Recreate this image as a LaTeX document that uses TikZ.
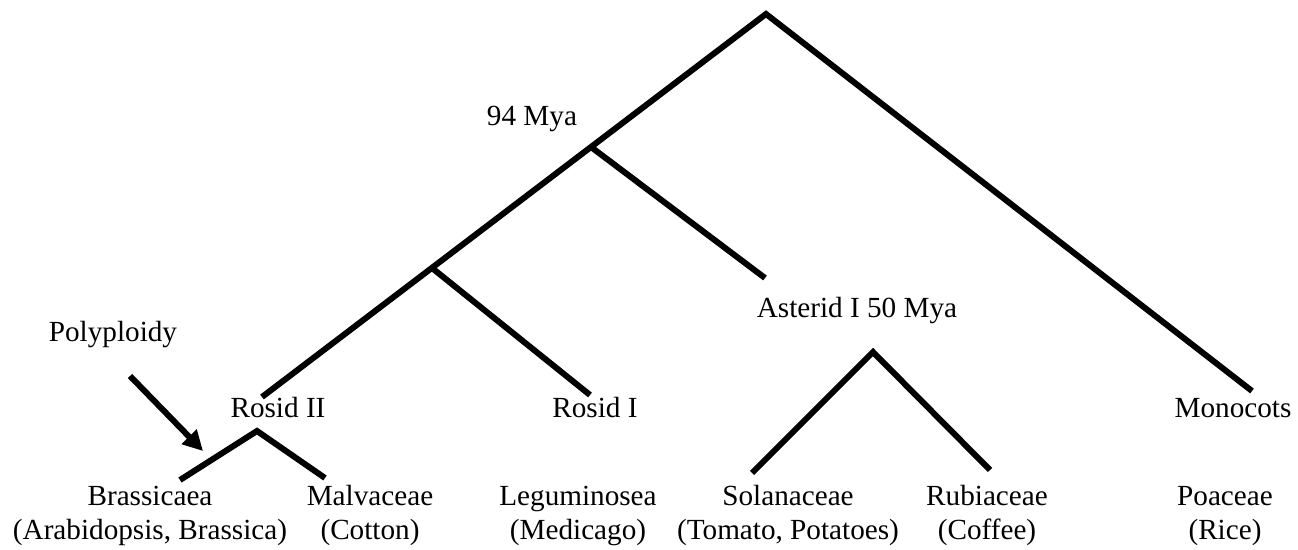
\documentclass[tikz,border=0pt]{standalone}
\usepackage{fontspec}
\setmainfont{Liberation Serif}
\usepackage{tikz}
\usetikzlibrary{arrows.meta}

\begin{document}
\begin{tikzpicture}[x=0.5pt,y=-0.5pt,
  branch/.style={line width=3pt,line join=miter,line cap=butt},
  taxon/.style={font=\fontsize{14.6}{17}\selectfont,inner sep=0pt,align=center,anchor=base}]
\useasboundingbox (0,0) rectangle (1298,550);
\coordinate (root) at (766,14);
\coordinate (n94) at (591,147);
\coordinate (nrosid) at (432,268);
\coordinate (rosid2tip) at (262,397);
\coordinate (monotip) at (1252,391);
\coordinate (asteridtip) at (765,278);
\coordinate (rosid1tip) at (590,395);
\coordinate (nasterid) at (873,352);
\coordinate (solantip) at (752,473);
\coordinate (rubitip) at (990,470);
\coordinate (nrosid2) at (257,431);
\coordinate (brasstip) at (180,480);
\coordinate (malvtip) at (325,478);
\coordinate (polystart) at (130,376);
\coordinate (polytip) at (203,451);

\node[taxon] (poly) at (113,342) {Polyploidy};
\node[taxon] (mya94) at (532,126) {94 Mya};
\node[taxon] (rosid2) at (278,418) {Rosid II};
\node[taxon] (rosid1) at (595,418) {Rosid I};
\node[taxon] (asterid) at (857,318) {Asterid I 50 Mya};
\node[taxon] (monocots) at (1233,418) {Monocots};
\node[taxon] (brass) at (150,540) {Brassicaea\\(Arabidopsis, Brassica)};
\node[taxon] (malv) at (370,540) {Malvaceae\\(Cotton)};
\node[taxon] (legum) at (578,540) {Leguminosea\\(Medicago)};
\node[taxon] (solan) at (788,540) {Solanaceae\\(Tomato, Potatoes)};
\node[taxon] (rubi) at (987,540) {Rubiaceae\\(Coffee)};
\node[taxon] (poac) at (1225,540) {Poaceae\\(Rice)};

\draw[branch] (rosid2tip) -- (root) -- (monotip);
\draw[branch] (n94) -- (asteridtip);
\draw[branch] (nrosid) -- (rosid1tip);
\draw[branch] (solantip) -- (nasterid) -- (rubitip);
\draw[branch] (brasstip) -- (nrosid2) -- (malvtip);
\draw[branch,-{Triangle[length=10pt,width=10pt]}] (polystart) -- (polytip);
\end{tikzpicture}
\end{document}
